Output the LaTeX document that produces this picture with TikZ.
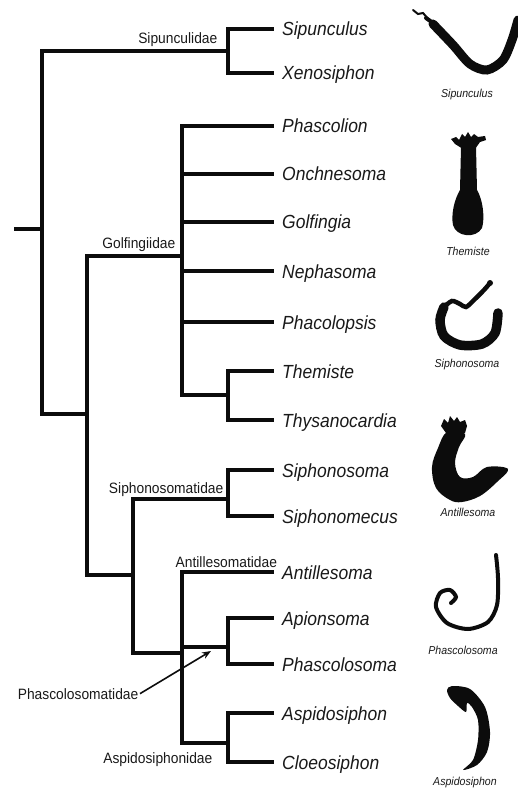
\documentclass[tikz,border=0pt]{standalone}
\usepackage{fontspec}
\usepackage{tikz}
\usetikzlibrary{arrows.meta}
\newfontfamily\cladefont[FakeStretch=0.92]{Liberation Sans}
\definecolor{inkblack}{RGB}{12,12,12}
\definecolor{labelgray}{RGB}{25,25,25}

\begin{document}
\begin{tikzpicture}[x=1pt, y=-1pt,
    every node/.style={font=\cladefont, text=labelgray},
    branch/.style={draw=inkblack, line width=4.6pt},
    leaf/.style={anchor=west, inner xsep=8pt, inner ysep=0pt, text height=14pt, text depth=0pt, font=\cladefont\itshape\fontsize{19}{22}\selectfont},
    clade/.style={inner sep=1.5pt, font=\cladefont\fontsize{15}{17}\selectfont},
    caption/.style={inner sep=1pt, font=\cladefont\itshape\fontsize{11.5}{13}\selectfont},
    worm/.style={fill=inkblack, draw=none}]
    \useasboundingbox (0,0) rectangle (518,791);

    % Genera
    \node[leaf] (sipunculus) at (274,29) {Sipunculus};
    \node[leaf] (xenosiphon) at (274,73) {Xenosiphon};
    \node[leaf] (phascolion) at (274,126) {Phascolion};
    \node[leaf] (onchnesoma) at (274,174) {Onchnesoma};
    \node[leaf] (golfingia) at (274,222) {Golfingia};
    \node[leaf] (nephasoma) at (274,271) {Nephasoma};
    \node[leaf] (phacolopsis) at (274,322) {Phacolopsis};
    \node[leaf] (themiste) at (274,371) {Themiste};
    \node[leaf] (thysanocardia) at (274,420) {Thysanocardia};
    \node[leaf] (siphonosoma) at (274,470) {Siphonosoma};
    \node[leaf] (siphonomecus) at (274,516) {Siphonomecus};
    \node[leaf] (antillesoma) at (274,572) {Antillesoma};
    \node[leaf] (apionsoma) at (274,618) {Apionsoma};
    \node[leaf] (phascolosoma) at (274,664) {Phascolosoma};
    \node[leaf] (aspidosiphon) at (274,713) {Aspidosiphon};
    \node[leaf] (cloeosiphon) at (274,762) {Cloeosiphon};

    % Inner nodes of the tree
    \coordinate (stub) at (14,229);
    \coordinate (root) at (42,229);
    \coordinate (sipnode) at (228,51);
    \coordinate (coelnode) at (87,414);
    \coordinate (golfnode) at (182,256);
    \coordinate (themnode) at (228,395);
    \coordinate (lownode) at (133,575);
    \coordinate (siphnode) at (228,499);
    \coordinate (phasnode) at (182,653);
    \coordinate (apionode) at (228,647);
    \coordinate (aspinode) at (228,743);

    % Branches
    \draw[branch] (stub) -- (root);
    \draw[branch] (root) |- (sipnode);
    \draw[branch] (root) |- (coelnode);
    \draw[branch] (sipnode) |- (sipunculus.west);
    \draw[branch] (sipnode) |- (xenosiphon.west);
    \draw[branch] (coelnode) |- (golfnode);
    \draw[branch] (coelnode) |- (lownode);
    \draw[branch] (golfnode) |- (phascolion.west);
    \draw[branch] (golfnode) |- (onchnesoma.west);
    \draw[branch] (golfnode) |- (golfingia.west);
    \draw[branch] (golfnode) |- (nephasoma.west);
    \draw[branch] (golfnode) |- (phacolopsis.west);
    \draw[branch] (golfnode) |- (themnode);
    \draw[branch] (themnode) |- (themiste.west);
    \draw[branch] (themnode) |- (thysanocardia.west);
    \draw[branch] (lownode) |- (siphnode);
    \draw[branch] (lownode) |- (phasnode);
    \draw[branch] (siphnode) |- (siphonosoma.west);
    \draw[branch] (siphnode) |- (siphonomecus.west);
    \draw[branch] (phasnode) |- (antillesoma.west);
    \draw[branch] (phasnode) |- (apionode);
    \draw[branch] (phasnode) |- (aspinode);
    \draw[branch] (apionode) |- (apionsoma.west);
    \draw[branch] (apionode) |- (phascolosoma.west);
    \draw[branch] (aspinode) |- (aspidosiphon.west);
    \draw[branch] (aspinode) |- (cloeosiphon.west);

    % Family names
    \node[clade, anchor=base east] (sipunculidae) at (219,44) {Sipunculidae};
    \node[clade, anchor=base east] (golfingiidae) at (177,248) {Golfingiidae};
    \node[clade, anchor=base east] (siphonosomatidae) at (225,493) {Siphonosomatidae};
    \node[clade, anchor=base west] (antillesomatidae) at (174,567) {Antillesomatidae};
    \node[clade, anchor=base east] (phascolosomatidae) at (140,699) {Phascolosomatidae};
    \node[clade, anchor=base east] (aspidosiphonidae) at (214,763) {Aspidosiphonidae};
    \coordinate (phastip) at (211,651);
    \draw[-{Stealth[length=9pt, width=7pt]}, inkblack, line width=1.6pt] (phascolosomatidae.east) -- (phastip);

    % Sipunculus
    \draw[inkblack, line width=2pt, line cap=round] (413,10) -- (418,14) -- (423,13) -- (430,21);
    \draw[inkblack, line width=4pt, line cap=round] (426,18) -- (433,23);
    \draw[inkblack, line width=9pt, line cap=round] plot[smooth] coordinates {(433,24) (453,45) (470,64) (487,70) (503,60) (512,40) (518,20)};
    \node[caption] (capsipunculus) at (467,95) {Sipunculus};

    % Themiste
    \fill[worm] (461,147) -- (460,190) .. controls (454,200) and (451,215) .. (453,225) .. controls (456,237) and (476,239) .. (482,228) .. controls (485,218) and (483,200) .. (477,190) -- (476,147) -- cycle;
    \fill[worm] (463,149) -- (455,144) -- (451,139) -- (456,137) -- (459,140) -- (462,134) -- (465,137) -- (468,132) -- (471,137) -- (474,134) -- (478,137) -- (485,136) -- (486,140) -- (480,142) -- (475,149) -- cycle;
    \node[caption] (capthemiste) at (468,251) {Themiste};

    % Siphonosoma
    \draw[inkblack, line width=9.5pt, line cap=round] plot[smooth] coordinates {(498,313) (495,333) (482,344) (460,345) (444,336) (440,320) (444,307)};
    \draw[inkblack, line width=4.5pt, line cap=round] plot[smooth] coordinates {(444,307) (452,301) (460,304) (466,307) (474,300) (484,290) (490,283)};
    \fill[inkblack] (490,283) circle (3pt);
    \node[caption] (capsiphonosoma) at (467,365) {Siphonosoma};

    % Antillesoma
    \fill[worm] plot[smooth cycle, tension=0.6] coordinates {(447,432) (438,448) (432,467) (436,488) (450,500) (462,502) (480,496) (497,482) (508,469) (487,467) (473,477) (460,477) (455,463) (459,447) (465,434)};
    \fill[worm] (446,433) -- (441,426) -- (444,419) -- (448,423) -- (450,416) -- (454,421) -- (457,417) -- (460,422) -- (465,420) -- (467,426) -- (465,433) -- cycle;
    \node[caption] (capantillesoma) at (468,512) {Antillesoma};

    % Phascolosoma
    \draw[inkblack, line width=4pt, line cap=round] plot[smooth] coordinates {(496,555) (498,578) (497,605) (488,622) (468,629) (447,623) (436,607) (440,593) (450,590) (456,597) (451,603)};
    \node[caption] (capphascolosoma) at (463,650) {Phascolosoma};

    % Aspidosiphon
    \fill[worm] plot[smooth cycle, tension=0.5] coordinates {(452,686) (470,689) (485,707) (490,732) (487,752) (477,765) (463,770) (473,760) (478,740) (478,720) (472,707) (467,703) (466,712) (458,706) (450,698) (447,690)};
    \node[caption] (capaspidosiphon) at (465,783) {Aspidosiphon};
\end{tikzpicture}
\end{document}
